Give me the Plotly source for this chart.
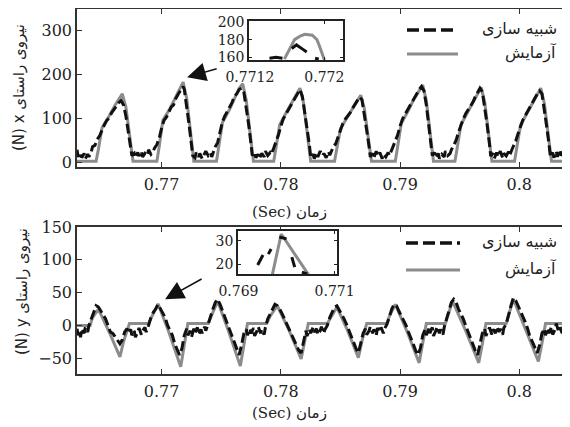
import plotly.graph_objects as go

# ---------------- data: top panel (Fx) ----------------
t_exp_x = [0.7629, 0.7645, 0.7647, 0.7650, 0.7656, 0.7661, 0.7667, 0.7670, 0.7676,
           0.7696, 0.7698, 0.7701, 0.7707, 0.7712, 0.7718, 0.7721, 0.7727,
           0.7746, 0.7748, 0.7751, 0.7757, 0.7762, 0.7765, 0.7768, 0.7771, 0.7777,
           0.7794, 0.7796, 0.7799, 0.7805, 0.7810, 0.7816, 0.7819, 0.7825,
           0.7845, 0.7847, 0.7850, 0.7856, 0.7861, 0.7867, 0.7870, 0.7876,
           0.7896, 0.7898, 0.7901, 0.7907, 0.7912, 0.7919, 0.7922, 0.7928,
           0.7946, 0.7948, 0.7951, 0.7957, 0.7962, 0.7968, 0.7971, 0.7977,
           0.7996, 0.7998, 0.8001, 0.8007, 0.8012, 0.8018, 0.8021, 0.8027, 0.8040]
f_exp_x = [2, 2, 30, 78, 105, 130, 155, 125, 2,
           2, 36, 95, 122, 150, 182, 145, 2,
           2, 35, 90, 120, 148, 168, 178, 140, 2,
           2, 34, 85, 115, 140, 168, 135, 2,
           2, 30, 76, 103, 126, 152, 122, 2,
           2, 35, 88, 118, 145, 175, 140, 2,
           2, 34, 85, 115, 141, 170, 136, 2,
           2, 34, 84, 114, 140, 168, 134, 2, 2]

t_sim_x = [0.7629, 0.7630, 0.7632, 0.7633, 0.7635, 0.7636, 0.7638, 0.7639, 0.7641, 0.7642, 0.7644,
           0.7646, 0.7648, 0.7650, 0.7652, 0.7654, 0.7656, 0.7658, 0.7660, 0.7662, 0.7664, 0.7666, 0.7668,
           0.7670, 0.7672, 0.7674, 0.7675,
           0.7677, 0.7678, 0.7680, 0.7681, 0.7683, 0.7684, 0.7686, 0.7688, 0.7689, 0.7691, 0.7693, 0.7694,
           0.7696, 0.7698, 0.7700, 0.7702, 0.7704, 0.7706, 0.7708, 0.7710, 0.7712, 0.7714, 0.7716, 0.7718, 0.7719,
           0.7721, 0.7723, 0.7725, 0.7726,
           0.7728, 0.7729, 0.7731, 0.7732, 0.7734, 0.7736, 0.7737, 0.7739, 0.7741, 0.7742, 0.7744, 0.7745,
           0.7747, 0.7749, 0.7751, 0.7753, 0.7755, 0.7757, 0.7759, 0.7761, 0.7763, 0.7765, 0.7767, 0.7769,
           0.7771, 0.7773, 0.7775, 0.7776,
           0.7778, 0.7779, 0.7781, 0.7782, 0.7784, 0.7786, 0.7787, 0.7789, 0.7791, 0.7792, 0.7794,
           0.7796, 0.7798, 0.7800, 0.7802, 0.7804, 0.7806, 0.7808, 0.7810, 0.7812, 0.7814, 0.7816, 0.7818,
           0.7820, 0.7822, 0.7824, 0.7825,
           0.7827, 0.7828, 0.7830, 0.7831, 0.7833, 0.7835, 0.7836, 0.7838, 0.7840, 0.7841, 0.7843, 0.7844,
           0.7846, 0.7848, 0.7850, 0.7852, 0.7854, 0.7856, 0.7858, 0.7860, 0.7862, 0.7864, 0.7866, 0.7868,
           0.7870, 0.7872, 0.7874, 0.7875,
           0.7877, 0.7878, 0.7880, 0.7881, 0.7883, 0.7885, 0.7886, 0.7888, 0.7890, 0.7891, 0.7893, 0.7894,
           0.7896, 0.7898, 0.7900, 0.7902, 0.7904, 0.7906, 0.7908, 0.7910, 0.7912, 0.7914, 0.7916, 0.7918, 0.7920,
           0.7922, 0.7924, 0.7926, 0.7927,
           0.7929, 0.7930, 0.7932, 0.7933, 0.7935, 0.7937, 0.7938, 0.7940, 0.7942, 0.7943, 0.7945,
           0.7947, 0.7949, 0.7951, 0.7953, 0.7955, 0.7957, 0.7959, 0.7961, 0.7963, 0.7965, 0.7967, 0.7969,
           0.7971, 0.7973, 0.7975, 0.7976,
           0.7978, 0.7979, 0.7981, 0.7982, 0.7984, 0.7986, 0.7987, 0.7989, 0.7991, 0.7992, 0.7994, 0.7995,
           0.7997, 0.7999, 0.8001, 0.8003, 0.8005, 0.8007, 0.8009, 0.8011, 0.8013, 0.8015, 0.8017, 0.8019,
           0.8021, 0.8023, 0.8025, 0.8026,
           0.8028, 0.8029, 0.8031, 0.8032, 0.8034, 0.8035, 0.8037, 0.8038, 0.8040]
f_sim_x = [28, 12, 22, 10, 20, 8, 18, 12, 24, 35, 38,
           52, 60, 75, 85, 95, 100, 112, 120, 128, 135, 140, 130,
           105, 70, 35, 15,
           20, 10, 22, 14, 25, 12, 20, 15, 28, 18, 25, 32,
           40, 55, 78, 95, 102, 112, 125, 130, 145, 155, 165, 172, 165,
           130, 85, 40, 15,
           10, 22, 12, 20, 8, 18, 25, 15, 22, 12, 30, 35,
           45, 70, 92, 105, 115, 128, 135, 150, 155, 165, 168, 158,
           125, 85, 40, 15,
           22, 10, 18, 8, 20, 12, 25, 15, 22, 18, 32,
           45, 62, 82, 98, 108, 118, 128, 138, 148, 158, 165, 150,
           115, 78, 38, 12,
           18, 8, 22, 12, 25, 15, 20, 10, 24, 16, 28, 35,
           42, 58, 75, 88, 98, 105, 112, 122, 130, 138, 148, 142,
           110, 72, 35, 12,
           20, 10, 25, 14, 22, 8, 18, 12, 22, 15, 28, 35,
           48, 62, 82, 98, 108, 118, 128, 138, 146, 155, 165, 172, 162,
           130, 88, 42, 15,
           22, 10, 20, 8, 18, 12, 25, 15, 20, 28, 38,
           50, 68, 85, 98, 110, 118, 128, 136, 148, 158, 168, 160,
           125, 85, 40, 14,
           20, 8, 22, 12, 25, 10, 20, 14, 24, 16, 30, 36,
           48, 65, 82, 96, 106, 115, 125, 135, 145, 155, 162, 155,
           120, 80, 38, 14,
           22, 10, 25, 12, 28, 15, 22, 10, 20]

# ---------------- data: bottom panel (Fy) ----------------
t_exp_y = [0.7629, 0.7640, 0.7642, 0.7647, 0.7656, 0.7665, 0.7668, 0.7673,
           0.7689, 0.7692, 0.7697, 0.7706, 0.7716, 0.7719, 0.7722,
           0.7739, 0.7742, 0.7747, 0.7756, 0.7766, 0.7769, 0.7772,
           0.7788, 0.7791, 0.7797, 0.7807, 0.7817, 0.7820, 0.7823,
           0.7839, 0.7842, 0.7847, 0.7856, 0.7865, 0.7868, 0.7872,
           0.7889, 0.7891, 0.7896, 0.7906, 0.7916, 0.7919, 0.7922,
           0.7938, 0.7940, 0.7944, 0.7955, 0.7966, 0.7969, 0.7972,
           0.7989, 0.7991, 0.7995, 0.8005, 0.8016, 0.8019, 0.8022, 0.8040]
f_exp_y = [0, 0, 12, 25, -10, -48, -25, 3,
           3, 15, 33, -10, -63, -30, 3,
           3, 15, 37, -8, -62, -30, 3,
           3, 14, 30, -8, -51, -25, 3,
           3, 13, 28, -8, -49, -24, 3,
           3, 14, 32, -10, -57, -28, 3,
           3, 15, 37, -8, -57, -28, 3,
           3, 16, 40, -5, -55, -27, 3, 3]

t_sim_y = [0.7629, 0.7630, 0.7631, 0.7632, 0.7633, 0.7635, 0.7636, 0.7638, 0.7639, 0.7641, 0.7643, 0.7645,
           0.7647, 0.7649, 0.7651, 0.7653, 0.7655, 0.7657, 0.7659, 0.7661, 0.7663, 0.7665, 0.7667, 0.7669,
           0.7671, 0.7672, 0.7674, 0.7675, 0.7677, 0.7678, 0.7680, 0.7681, 0.7683, 0.7684, 0.7686, 0.7687, 0.7689,
           0.7691, 0.7693, 0.7695, 0.7697, 0.7699, 0.7701, 0.7703, 0.7705, 0.7707, 0.7709, 0.7711, 0.7713, 0.7715, 0.7717, 0.7719,
           0.7721, 0.7722, 0.7724, 0.7725, 0.7727, 0.7728, 0.7730, 0.7731, 0.7733, 0.7734, 0.7736, 0.7737, 0.7739,
           0.7741, 0.7743, 0.7745, 0.7747, 0.7749, 0.7751, 0.7753, 0.7755, 0.7757, 0.7759, 0.7761, 0.7763, 0.7765, 0.7767, 0.7769,
           0.7771, 0.7772, 0.7774, 0.7775, 0.7777, 0.7778, 0.7780, 0.7781, 0.7783, 0.7784, 0.7786, 0.7787,
           0.7789, 0.7791, 0.7793, 0.7795, 0.7797, 0.7799, 0.7801, 0.7803, 0.7805, 0.7807, 0.7809, 0.7811, 0.7813, 0.7815, 0.7817, 0.7819,
           0.7821, 0.7822, 0.7824, 0.7825, 0.7827, 0.7828, 0.7830, 0.7831, 0.7833, 0.7834, 0.7836, 0.7837, 0.7839,
           0.7841, 0.7843, 0.7845, 0.7847, 0.7849, 0.7851, 0.7853, 0.7855, 0.7857, 0.7859, 0.7861, 0.7863, 0.7865, 0.7867, 0.7869,
           0.7871, 0.7872, 0.7874, 0.7875, 0.7877, 0.7878, 0.7880, 0.7881, 0.7883, 0.7884, 0.7886, 0.7887, 0.7889,
           0.7891, 0.7893, 0.7895, 0.7897, 0.7899, 0.7901, 0.7903, 0.7905, 0.7907, 0.7909, 0.7911, 0.7913, 0.7915, 0.7917, 0.7919,
           0.7921, 0.7922, 0.7924, 0.7925, 0.7927, 0.7928, 0.7930, 0.7931, 0.7933, 0.7934, 0.7936, 0.7937,
           0.7939, 0.7941, 0.7943, 0.7945, 0.7947, 0.7949, 0.7951, 0.7953, 0.7955, 0.7957, 0.7959, 0.7961, 0.7963, 0.7965, 0.7967, 0.7969,
           0.7971, 0.7972, 0.7974, 0.7975, 0.7977, 0.7978, 0.7980, 0.7981, 0.7983, 0.7984, 0.7986, 0.7987, 0.7989,
           0.7991, 0.7993, 0.7995, 0.7997, 0.7999, 0.8001, 0.8003, 0.8005, 0.8007, 0.8009, 0.8011, 0.8013, 0.8015, 0.8017, 0.8019,
           0.8021, 0.8022, 0.8024, 0.8025, 0.8027, 0.8028, 0.8030, 0.8031, 0.8033, 0.8034, 0.8036, 0.8037, 0.8039, 0.8040]
f_sim_y = [-5, -15, -8, -18, -5, -12, -3, -10, 0, 10, 18, 30,
           28, 22, 15, 10, 0, -10, -12, -18, -22, -28, -22, -10,
           -5, -12, -6, -15, -8, -18, -10, -4, -14, -8, -3, -10, 0,
           12, 20, 25, 32, 25, 18, 12, 0, -8, -15, -28, -38, -45, -35, -15,
           -5, -15, -8, -18, -5, -12, -3, -14, -6, -12, -2, -8, 2,
           15, 25, 35, 40, 32, 22, 15, 5, -5, -18, -25, -35, -45, -30, -12,
           -6, -15, -5, -12, -4, -16, -8, -2, -12, -6, -14, -3,
           10, 18, 25, 32, 30, 25, 18, 10, 2, -8, -15, -22, -30, -38, -42, -25,
           -8, -16, -6, -12, -3, -10, -5, -14, -8, -2, -12, -6, 0,
           12, 20, 28, 30, 24, 18, 10, 2, -8, -18, -25, -35, -42, -28, -12,
           -5, -14, -8, -2, -12, -6, -15, -4, -10, -3, -12, -5, 2,
           15, 25, 32, 30, 22, 15, 8, 0, -10, -18, -28, -38, -45, -35, -15,
           -6, -15, -5, -12, -3, -16, -8, -2, -12, -6, -14, -3,
           10, 22, 35, 40, 35, 25, 18, 10, 0, -10, -20, -30, -38, -45, -30, -12,
           -5, -16, -8, -3, -14, -6, -12, -2, -10, -5, -14, -4, 2,
           18, 30, 42, 38, 30, 22, 15, 5, -5, -18, -25, -35, -42, -30, -12,
           -5, -15, -4, -12, -2, -14, -6, 3, -10, -3, -12, 0, -8, -2]

# ---------------- inset data ----------------
t_in_top_exp = [0.77157, 0.77163, 0.77168, 0.77174, 0.77179, 0.77187, 0.77192, 0.77195, 0.77197, 0.77200]
f_in_top_exp = [158, 170, 180, 184, 186, 185, 180, 172, 165, 157]
t_in_top_sim = [0.77141, 0.77148, 0.77155, None, 0.77165, 0.77170, 0.77177, 0.77181, None, 0.77190, 0.77194]
f_in_top_sim = [159, 160, 159, None, 170, 174, 169, 166, None, 159, 158]

t_in_bot_exp = [0.76970, 0.76989, 0.77047]
f_in_bot_exp = [15, 33, 15]
t_in_bot_sim = [0.76940, 0.76951, None, 0.76962, 0.76968, None, 0.76985, 0.77000, None,
                0.77011, 0.77017, None, 0.77032, 0.77043]
f_in_bot_sim = [19.6, 23.9, None, 24.3, 26.5, None, 31.7, 30.9, None,
                23.0, 18.7, None, 16.5, 15.7]

x_ticks = [0.77, 0.78, 0.79, 0.8]
x_ticktext = ["0.77", "0.78", "0.79", "0.8"]
top_yticks = [0, 100, 200, 300]
bot_yticks = [-50, 0, 50, 100, 150]

name_sim = "شبیه سازی"
name_exp = "آزمایش"
ytitle_top = "(N) x نیروی راستای"
ytitle_bot = "(N) y نیروی راستای"
xtitle = "(Sec) زمان"

GRAY = "#8c8c8c"
BLACK = "#111111"
SERIF = "DejaVu Serif, Liberation Serif, serif"
ARAB = "DejaVu Sans, Noto Sans, sans-serif"

fig = go.Figure()

# top panel
fig.add_trace(go.Scatter(x=t_exp_x, y=f_exp_x, mode="lines", name=name_exp,
                         line=dict(color=GRAY, width=3), xaxis="x", yaxis="y"))
fig.add_trace(go.Scatter(x=t_sim_x, y=f_sim_x, mode="lines", name=name_sim,
                         line=dict(color=BLACK, width=3, dash="10px,4px"), xaxis="x", yaxis="y"))
# bottom panel
fig.add_trace(go.Scatter(x=t_exp_y, y=f_exp_y, mode="lines", name=name_exp,
                         line=dict(color=GRAY, width=3), xaxis="x2", yaxis="y2"))
fig.add_trace(go.Scatter(x=t_sim_y, y=f_sim_y, mode="lines", name=name_sim,
                         line=dict(color=BLACK, width=3, dash="10px,4px"), xaxis="x2", yaxis="y2"))
# insets
fig.add_trace(go.Scatter(x=t_in_top_exp, y=f_in_top_exp, mode="lines",
                         line=dict(color=GRAY, width=3), xaxis="x3", yaxis="y3"))
fig.add_trace(go.Scatter(x=t_in_top_sim, y=f_in_top_sim, mode="lines",
                         line=dict(color=BLACK, width=3), xaxis="x3", yaxis="y3"))
fig.add_trace(go.Scatter(x=t_in_bot_exp, y=f_in_bot_exp, mode="lines",
                         line=dict(color=GRAY, width=3), xaxis="x4", yaxis="y4"))
fig.add_trace(go.Scatter(x=t_in_bot_sim, y=f_in_bot_sim, mode="lines",
                         line=dict(color=BLACK, width=3), xaxis="x4", yaxis="y4"))

W, H = 570, 427
OFF = 8  # page body margin shifts the figure by this many pixels
def px_x(p): return (p - OFF) / W
def px_y(p): return 1 - (p - OFF) / H

main_ax = dict(showline=True, linecolor="#333", linewidth=1.5, mirror="ticks",
               ticks="inside", ticklen=5, tickcolor="#333", showgrid=False, zeroline=False,
               tickfont=dict(family=SERIF, size=16, color="#222"))
inset_ax = dict(showline=True, linecolor="#222", linewidth=1.5, mirror="ticks",
                ticks="inside", ticklen=3, tickcolor="#222", showgrid=False, zeroline=False,
                tickfont=dict(family=SERIF, size=14, color="#222"))

fig.update_layout(
    width=W, height=H, margin=dict(l=0, r=0, t=0, b=0, autoexpand=False),
    paper_bgcolor="white", plot_bgcolor="white", showlegend=False,
    xaxis=dict(main_ax, domain=[px_x(77), px_x(567)], range=[0.7629, 0.8040],
               tickvals=x_ticks, ticktext=x_ticktext, anchor="y", ticklabelstandoff=2),
    yaxis=dict(main_ax, domain=[px_y(167), px_y(9)], range=[-11, 348],
               tickvals=top_yticks, anchor="x"),
    xaxis2=dict(main_ax, domain=[px_x(77), px_x(567)], range=[0.7629, 0.8040],
                tickvals=x_ticks, ticktext=x_ticktext, anchor="y2", ticklabelstandoff=2),
    yaxis2=dict(main_ax, domain=[px_y(374), px_y(227)], range=[-74, 150],
                tickvals=bot_yticks, anchor="x2"),
    xaxis3=dict(inset_ax, domain=[px_x(249), px_x(343)], range=[0.77119, 0.7722],
                tickvals=[0.7712, 0.772], ticktext=["0.7712", "0.772"], anchor="y3",
                ticklabelstandoff=3),
    yaxis3=dict(inset_ax, domain=[px_y(60), px_y(21)], range=[157, 201],
                tickvals=[160, 180, 200], anchor="x3"),
    xaxis4=dict(inset_ax, domain=[px_x(238), px_x(337)], range=[0.76899, 0.77105],
                tickvals=[0.769, 0.771], ticktext=["0.769", "0.771"], anchor="y4",
                ticklabelstandoff=3),
    yaxis4=dict(inset_ax, domain=[px_y(274), px_y(231)], range=[15.7, 34.3],
                tickvals=[20, 30], anchor="x4"),
)

# manual legends (line samples + right-aligned RTL labels)
legend_rows = [  # (row1 y px, line x0 px, line x1 px, row2 y px)
    (30, 407, 458, 54),
    (243, 406, 460, 270),
]
shapes = []
annos = []
for y1, x0, x1, y2 in legend_rows:
    shapes.append(dict(type="line", xref="paper", yref="paper", x0=px_x(x0), x1=px_x(x1),
                       y0=px_y(y1), y1=px_y(y1), line=dict(color=BLACK, width=3.5, dash="12px,5px")))
    shapes.append(dict(type="line", xref="paper", yref="paper", x0=px_x(x0), x1=px_x(x1),
                       y0=px_y(y2), y1=px_y(y2), line=dict(color=GRAY, width=3)))
    annos.append(dict(text=name_sim, x=px_x(559), y=px_y(y1 - 1), xref="paper", yref="paper",
                      xanchor="right", yanchor="middle", showarrow=False,
                      font=dict(family=ARAB, size=16, color="#222")))
    annos.append(dict(text=name_exp, x=px_x(559), y=px_y(y2 - 1), xref="paper", yref="paper",
                      xanchor="right", yanchor="middle", showarrow=False,
                      font=dict(family=ARAB, size=16, color="#222")))

annos += [
    dict(text=ytitle_top, x=px_x(19), y=px_y(88), xref="paper", yref="paper", textangle=-90,
         xanchor="center", yanchor="middle",
         showarrow=False, font=dict(family=ARAB, size=15, color="#222")),
    dict(text=ytitle_bot, x=px_x(22), y=px_y(292), xref="paper", yref="paper", textangle=-90,
         xanchor="center", yanchor="middle",
         showarrow=False, font=dict(family=ARAB, size=15, color="#222")),
    dict(text=xtitle, x=px_x(289), y=px_y(212), xref="paper", yref="paper",
         xanchor="center", yanchor="middle",
         showarrow=False, font=dict(family=SERIF + ", DejaVu Sans", size=15, color="#222")),
    dict(text=xtitle, x=px_x(289), y=px_y(413), xref="paper", yref="paper",
         xanchor="center", yanchor="middle",
         showarrow=False, font=dict(family=SERIF + ", DejaVu Sans", size=15, color="#222")),
    dict(text="", x=0.77214, y=193, xref="x", yref="y", showarrow=True,
         ax=31, ay=-9, arrowhead=2, arrowsize=2.5, arrowwidth=1.5, arrowcolor="#111"),
    dict(text="", x=0.77029, y=40, xref="x2", yref="y2", showarrow=True,
         ax=38, ay=-21, arrowhead=2, arrowsize=2.5, arrowwidth=1.5, arrowcolor="#111"),
]
fig.update_layout(annotations=annos, shapes=shapes)

fig.write_html("out.html")
